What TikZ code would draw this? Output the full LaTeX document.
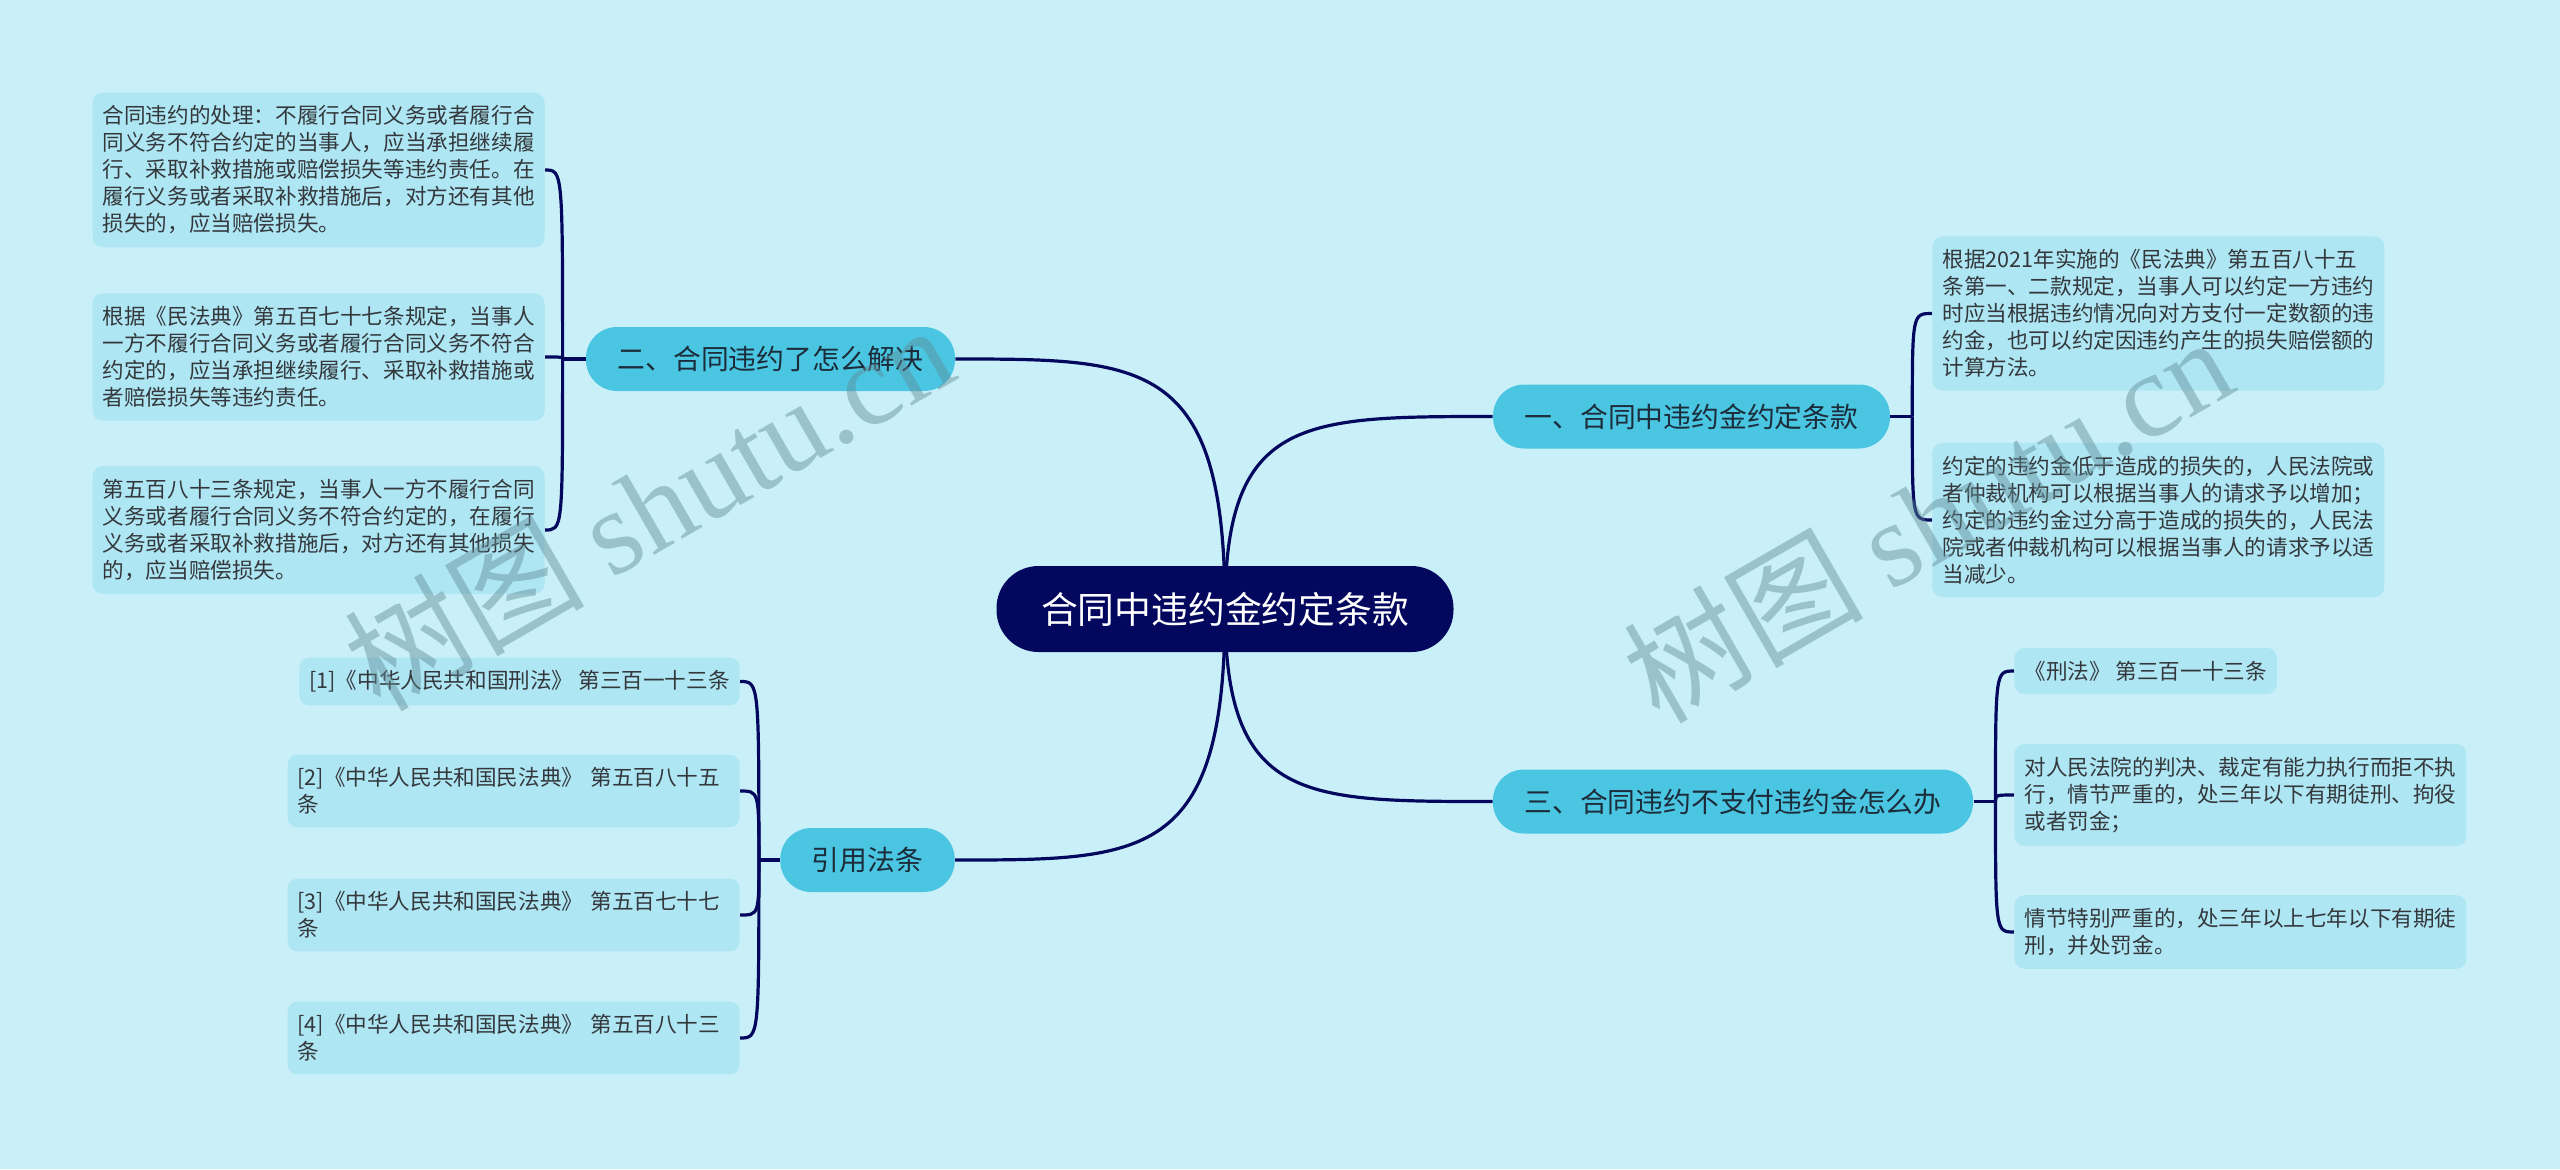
\documentclass[tikz,border=0pt]{standalone}
\usepackage{fontspec}
\setmainfont{Noto Sans CJK SC}
\newfontfamily\stampfont{Liberation Serif}
\usepackage{xcolor}
\usetikzlibrary{positioning}

\definecolor{paper}{RGB}{201,240,248}
\definecolor{navy}{RGB}{3,8,94}
\definecolor{topicfill}{RGB}{74,198,226}
\definecolor{topictext}{RGB}{28,44,58}
\definecolor{notefill}{RGB}{174,230,243}
\definecolor{notetext}{RGB}{52,56,60}
\definecolor{stampcol}{RGB}{95,140,150}

\pgfdeclarelayer{back}
\pgfdeclarelayer{lines}
\pgfdeclarelayer{front}
\pgfsetlayers{back,lines,main,front}

\begin{document}
\begin{tikzpicture}[
    x=0.5pt, y=-0.5pt,
    hub/.style={fill=navy, text=white, rounded corners=21pt, minimum height=43pt,
                inner xsep=22.25pt, inner ysep=0pt, font=\fontsize{18.4pt}{22pt}\selectfont},
    topic/.style={fill=topicfill, text=topictext, rounded corners=15.5pt, minimum height=32pt,
                  inner xsep=15.8pt, inner ysep=0pt, font=\fontsize{13.9pt}{17pt}\selectfont},
    note/.style={fill=notefill, text=notetext, rounded corners=5pt, align=left,
                 inner xsep=5pt, inner ysep=6.5pt, font=\fontsize{10.8pt}{13.5pt}\selectfont},
    wide/.style={note, text width=216pt},
    wire/.style={draw=navy, line width=1.6pt},
    stamp/.style={text=stampcol, text opacity=0.45, rotate=30,
                  font=\fontsize{60pt}{60pt}\selectfont}
]
\useasboundingbox (0,0) rectangle (2560,1169);
\begin{pgfonlayer}{back}
  \fill[paper] (0,0) rectangle (2560,1169);
\end{pgfonlayer}

% centre and main topics
\node[hub] (hub) at (1225,609) {合同中违约金约定条款};
\node[topic] (t1) at (1691.5,416.5) {一、合同中违约金约定条款};
\node[topic] (t2) at (770.5,359) {二、合同违约了怎么解决};
\node[topic] (t3) at (867.5,860) {引用法条};
\node[topic] (t4) at (1733,801.5) {三、合同违约不支付违约金怎么办};

% left notes
\node[wide, anchor=east] (l1) at (545,170) {合同违约的处理：不履行合同义务或者履行合\\同义务不符合约定的当事人，应当承担继续履\\行、采取补救措施或赔偿损失等违约责任。在\\履行义务或者采取补救措施后，对方还有其他\\损失的，应当赔偿损失。};
\node[wide, anchor=east] (l2) at (545,357) {根据《民法典》第五百七十七条规定，当事人\\一方不履行合同义务或者履行合同义务不符合\\约定的，应当承担继续履行、采取补救措施或\\者赔偿损失等违约责任。};
\node[wide, anchor=east] (l3) at (545,530) {第五百八十三条规定，当事人一方不履行合同\\义务或者履行合同义务不符合约定的，在履行\\义务或者采取补救措施后，对方还有其他损失\\的，应当赔偿损失。};

% cited articles
\node[note, anchor=east] (c1) at (740,681.5) {[1]《中华人民共和国刑法》 第三百一十三条};
\node[wide, anchor=east] (c2) at (740,791) {[2]《中华人民共和国民法典》 第五百八十五\\条};
\node[wide, anchor=east] (c3) at (740,915) {[3]《中华人民共和国民法典》 第五百七十七\\条};
\node[wide, anchor=east] (c4) at (740,1038) {[4]《中华人民共和国民法典》 第五百八十三\\条};

% right notes
\node[wide, anchor=west] (r1) at (1932,313.5) {根据2021年实施的《民法典》第五百八十五\\条第一、二款规定，当事人可以约定一方违约\\时应当根据违约情况向对方支付一定数额的违\\约金，也可以约定因违约产生的损失赔偿额的\\计算方法。};
\node[wide, anchor=west] (r2) at (1932,520) {约定的违约金低于造成的损失的，人民法院或\\者仲裁机构可以根据当事人的请求予以增加；\\约定的违约金过分高于造成的损失的，人民法\\院或者仲裁机构可以根据当事人的请求予以适\\当减少。};
\node[note, anchor=west] (r3) at (2014,671) {《刑法》 第三百一十三条};
\node[wide, anchor=west] (r4) at (2014,795) {对人民法院的判决、裁定有能力执行而拒不执\\行，情节严重的，处三年以下有期徒刑、拘役\\或者罚金；};
\node[wide, anchor=west] (r5) at (2014,932) {情节特别严重的，处三年以上七年以下有期徒\\刑，并处罚金。};

% fork points
\coordinate (k1) at ([xshift=11pt]t1.east);
\coordinate (k2) at ([xshift=-11.5pt]t2.west);
\coordinate (k3) at ([xshift=-10.5pt]t3.west);
\coordinate (k4) at ([xshift=11pt]t4.east);

\begin{pgfonlayer}{lines}
  \draw[wire] (hub.center) .. controls (hub.center |- t2.east) and +(190,0) .. (t2.east);
  \draw[wire] (hub.center) .. controls (hub.center |- t3.east) and +(190,0) .. (t3.east);
  \draw[wire] (hub.center) .. controls (hub.center |- t1.west) and +(-190,0) .. (t1.west);
  \draw[wire] (hub.center) .. controls (hub.center |- t4.west) and +(-190,0) .. (t4.west);

  \draw[wire] (t1.east) -- (k1);
  \draw[wire] (t2.west) -- (k2);
  \draw[wire] (t3.west) -- (k3);
  \draw[wire] (t4.east) -- (k4);
  \foreach \n in {r1,r2}
    \draw[wire] (k1) .. controls (k1 |- \n.west) .. (\n.west);
  \foreach \n in {l1,l2,l3}
    \draw[wire] (k2) .. controls (k2 |- \n.east) .. (\n.east);
  \foreach \n in {c1,c2,c3,c4}
    \draw[wire] (k3) .. controls (k3 |- \n.east) .. (\n.east);
  \foreach \n in {r3,r4,r5}
    \draw[wire] (k4) .. controls (k4 |- \n.west) .. (\n.west);
\end{pgfonlayer}

% watermark
\begin{pgfonlayer}{front}
  \node[stamp] (stampL) at (648,506) {树图 {\stampfont shutu.cn}};
  \node[stamp] (stampR) at (1927,518) {树图 {\stampfont shutu.cn}};
\end{pgfonlayer}
\end{tikzpicture}
\end{document}
